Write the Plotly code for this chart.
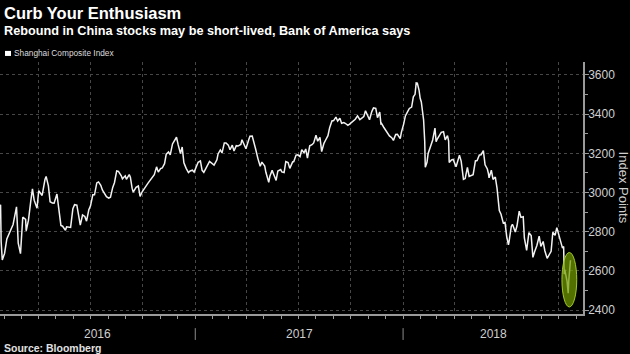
import plotly.graph_objects as go
import pandas as pd

# ---- data: Shanghai Composite Index ----
dates_2016 = ["2016-01-22","2016-01-25","2016-01-26","2016-01-28","2016-02-01","2016-02-03","2016-02-05",
    "2016-02-16","2016-02-22","2016-02-25","2016-02-29","2016-03-04","2016-03-09","2016-03-10","2016-03-14",
    "2016-03-18","2016-03-21","2016-03-24","2016-03-29","2016-04-01","2016-04-07","2016-04-12","2016-04-14",
    "2016-04-18","2016-04-21","2016-04-25","2016-04-28","2016-05-03","2016-05-06","2016-05-10","2016-05-13",
    "2016-05-18","2016-05-20","2016-05-24","2016-05-27","2016-05-31","2016-06-03","2016-06-07","2016-06-13",
    "2016-06-17","2016-06-21","2016-06-24","2016-06-28","2016-07-01","2016-07-05","2016-07-08","2016-07-12",
    "2016-07-15","2016-07-19","2016-07-22","2016-07-27","2016-07-29","2016-08-02","2016-08-05","2016-08-09",
    "2016-08-12","2016-08-16","2016-08-19","2016-08-24","2016-08-26","2016-08-31","2016-09-02","2016-09-07",
    "2016-09-09","2016-09-12","2016-09-14","2016-09-19","2016-09-23","2016-09-26","2016-09-30","2016-10-10",
    "2016-10-14","2016-10-18","2016-10-21","2016-10-25","2016-10-28","2016-11-01","2016-11-04","2016-11-08",
    "2016-11-11","2016-11-15","2016-11-18","2016-11-22","2016-11-25","2016-11-29","2016-12-02","2016-12-06",
    "2016-12-09","2016-12-12","2016-12-16","2016-12-20","2016-12-23","2016-12-27","2016-12-30"]
values_2016 = [2916,2938,2750,2656,2689,2739,2763,
    2837,2927,2742,2688,2874,2863,2805,2859,
    2955,3019,2961,2920,3009,2985,3066,3082,
    3034,2953,2946,2945,2992,2913,2832,2828,
    2807,2825,2821,2822,2917,2938,2936,2834,
    2885,2878,2854,2912,2932,2988,2988,3049,
    3054,3037,3012,2992,2979,2971,2976,3026,
    3050,3110,3108,3085,3070,3085,3067,3091,
    3078,3022,3002,3026,3033,2980,3005,3048,
    3064,3084,3091,3131,3104,3122,3125,3147,
    3196,3207,3192,3248,3262,3282,3243,3199,
    3232,3152,3123,3102,3110,3114,3104]

dates_2017 = ["2017-01-03","2017-01-06","2017-01-10","2017-01-13","2017-01-16","2017-01-20","2017-01-24",
    "2017-01-26","2017-02-03","2017-02-08","2017-02-10","2017-02-14","2017-02-17","2017-02-21","2017-02-24",
    "2017-02-28","2017-03-03","2017-03-07","2017-03-10","2017-03-14","2017-03-17","2017-03-22","2017-03-24",
    "2017-03-29","2017-03-31","2017-04-05","2017-04-07","2017-04-11","2017-04-14","2017-04-17","2017-04-21",
    "2017-04-25","2017-04-28","2017-05-03","2017-05-05","2017-05-10","2017-05-12","2017-05-16","2017-05-19",
    "2017-05-23","2017-05-26","2017-05-31","2017-06-02","2017-06-06","2017-06-09","2017-06-13","2017-06-16",
    "2017-06-21","2017-06-23","2017-06-27","2017-06-30","2017-07-04","2017-07-07","2017-07-11","2017-07-14",
    "2017-07-17","2017-07-21","2017-07-25","2017-07-28","2017-08-01","2017-08-04","2017-08-08","2017-08-11",
    "2017-08-15","2017-08-18","2017-08-22","2017-08-25","2017-08-29","2017-09-01","2017-09-05","2017-09-08",
    "2017-09-12","2017-09-15","2017-09-19","2017-09-22","2017-09-26","2017-09-29","2017-10-09","2017-10-13",
    "2017-10-17","2017-10-20","2017-10-24","2017-10-27","2017-10-31","2017-11-03","2017-11-07","2017-11-10",
    "2017-11-14","2017-11-17","2017-11-21","2017-11-23","2017-11-24","2017-11-28","2017-12-01","2017-12-05",
    "2017-12-08","2017-12-12","2017-12-15","2017-12-19","2017-12-22","2017-12-27","2017-12-29"]
values_2017 = [3135,3154,3161,3113,3103,3123,3142,
    3159,3140,3167,3197,3217,3202,3253,3253,
    3242,3218,3242,3212,3239,3237,3245,3269,
    3241,3223,3270,3287,3288,3246,3222,3173,
    3134,3155,3135,3103,3052,3083,3113,3091,
    3062,3110,3117,3105,3102,3158,3153,3123,
    3156,3158,3191,3192,3183,3218,3203,3222,
    3176,3238,3244,3253,3292,3262,3281,3209,
    3251,3268,3290,3331,3365,3367,3385,3365,
    3379,3353,3357,3352,3343,3349,3374,3391,
    3372,3378,3388,3417,3393,3371,3413,3432,
    3429,3382,3410,3351,3353,3333,3318,3303,
    3289,3280,3266,3296,3297,3275,3307]

dates_2018 = ["2018-01-02","2018-01-05","2018-01-09","2018-01-12","2018-01-16","2018-01-19","2018-01-22",
    "2018-01-24","2018-01-26","2018-01-29","2018-01-31","2018-02-02","2018-02-06","2018-02-08","2018-02-09",
    "2018-02-12","2018-02-14","2018-02-22","2018-02-26","2018-02-28","2018-03-02","2018-03-06","2018-03-09",
    "2018-03-13","2018-03-16","2018-03-20","2018-03-22","2018-03-23","2018-03-27","2018-03-30","2018-04-03",
    "2018-04-04","2018-04-10","2018-04-13","2018-04-17","2018-04-20","2018-04-24","2018-04-27","2018-05-04",
    "2018-05-08","2018-05-11","2018-05-15","2018-05-18","2018-05-22","2018-05-25","2018-05-29","2018-05-31",
    "2018-06-01","2018-06-05","2018-06-08","2018-06-12","2018-06-15","2018-06-19","2018-06-22","2018-06-26",
    "2018-06-29","2018-07-02","2018-07-05","2018-07-06","2018-07-10","2018-07-12","2018-07-13","2018-07-17",
    "2018-07-20","2018-07-24","2018-07-26","2018-07-27","2018-07-31","2018-08-02","2018-08-06","2018-08-08",
    "2018-08-10","2018-08-14","2018-08-17","2018-08-20","2018-08-24","2018-08-28","2018-08-31","2018-09-04",
    "2018-09-07","2018-09-11","2018-09-14","2018-09-18","2018-09-21","2018-09-25","2018-09-28","2018-10-08",
    "2018-10-10","2018-10-11","2018-10-12","2018-10-16","2018-10-18","2018-10-19","2018-10-22"]
values_2018 = [3349,3391,3413,3429,3436,3488,3501,
    3559,3558,3523,3481,3462,3371,3262,3129,
    3154,3199,3268,3329,3259,3273,3290,3307,
    3310,3269,3290,3263,3153,3166,3169,3136,
    3131,3190,3160,3067,3071,3128,3082,3091,
    3161,3163,3192,3193,3214,3141,3120,3095,
    3075,3114,3067,3079,3022,2908,2889,2844,
    2847,2775,2733,2747,2827,2837,2831,2798,
    2829,2905,2882,2873,2876,2768,2705,2745,
    2795,2780,2669,2698,2730,2777,2725,2750,
    2703,2664,2682,2700,2797,2781,2821,2716,
    2725,2583,2606,2546,2486,2550,2654]

dates = dates_2016 + dates_2017 + dates_2018
values = values_2016 + values_2017 + values_2018

year_labels = ["2016", "2017", "2018"]
y_ticks = [2400, 2600, 2800, 3000, 3200, 3400, 3600]
highlight_n = 4   # last points circled in green

x_start, x_end = "2016-01-24", "2018-11-13"
y_min, y_max = 2380, 3666

FONT = "Liberation Sans, Arial, sans-serif"
GRID = "#474747"
AXIS = "#9a9a9a"
TEXT = "#cfcfcf"

fig = go.Figure()
fig.add_trace(go.Scatter(x=pd.to_datetime(dates), y=values, mode="lines",
                         line=dict(color="#f2f2f2", width=1.5), showlegend=False,
                         hoverinfo="x+y"))

fig.update_layout(
    width=630, height=354,
    margin=dict(l=0, r=47, t=62, b=40),
    paper_bgcolor="#000000", plot_bgcolor="#000000",
    font=dict(family=FONT, color=TEXT),
    showlegend=False,
)

fig.update_xaxes(
    range=[x_start, x_end], type="date",
    tick0="2016-01-01", dtick="M3",
    showgrid=True, gridcolor=GRID, griddash="dot", gridwidth=1,
    showticklabels=False, ticks="outside", ticklen=3, tickcolor=AXIS,
    minor=dict(dtick="M1", tick0="2016-01-01", ticks="outside", ticklen=3, tickcolor=AXIS, showgrid=False),
    showline=True, linecolor=AXIS, linewidth=1.5, zeroline=False,
)
fig.update_yaxes(
    range=[y_min, y_max], side="right",
    tickvals=y_ticks, ticktext=[str(v) for v in y_ticks],
    showgrid=True, gridcolor=GRID, griddash="dot", gridwidth=1,
    ticks="outside", ticklen=4, tickcolor=AXIS,
    minor=dict(dtick=100, tick0=2400, ticks="outside", ticklen=3, tickcolor=AXIS, showgrid=False),
    tickfont=dict(size=12, color=TEXT, family=FONT),
    ticklabelstandoff=-3,
    showline=True, linecolor=AXIS, linewidth=1.5, zeroline=False,
)

# year labels centred on the visible part of each year
starts = [pd.Timestamp(x_start), pd.Timestamp("2017-01-01"), pd.Timestamp("2018-01-01")]
ends = [pd.Timestamp("2017-01-01"), pd.Timestamp("2018-01-01"), pd.Timestamp(x_end)]
for lab, s, e in zip(year_labels, starts, ends):
    fig.add_annotation(x=s + (e - s) / 2, y=-0.08, xref="x", yref="paper", text=lab,
                       showarrow=False, font=dict(size=12, color=TEXT, family=FONT),
                       xanchor="center", yanchor="middle")
for s in starts[1:]:
    fig.add_shape(type="line", x0=s, x1=s, xref="x", yref="paper", y0=-0.056, y1=-0.103,
                  line=dict(color="#8a8a8a", width=1))

# green highlight ellipse around the latest rebound
hl_d = pd.to_datetime(dates[-highlight_n:])
hl_v = values[-highlight_n:]
fig.add_shape(type="circle", xref="x", yref="y",
              x0=hl_d[0] - pd.Timedelta(days=9), x1=hl_d[-1] + pd.Timedelta(days=11),
              y0=min(hl_v) - 70, y1=max(hl_v) + 40,
              fillcolor="rgba(112,155,0,0.72)", line=dict(color="rgba(170,210,40,0.95)", width=1),
              layer="above")

# titles
fig.add_annotation(x=0.003, y=1.194, xref="paper", yref="paper", text="<b>Curb Your Enthusiasm</b>",
                   showarrow=False, xanchor="left", yanchor="middle",
                   font=dict(size=16.5, color="#ffffff", family=FONT))
fig.add_annotation(x=0.003, y=1.123, xref="paper", yref="paper",
                   text="<b>Rebound in China stocks may be short-lived, Bank of America says</b>",
                   showarrow=False, xanchor="left", yanchor="middle",
                   font=dict(size=12.7, color="#ffffff", family=FONT))
# legend
fig.add_shape(type="rect", xref="paper", yref="paper", x0=0.0086, x1=0.0189, y0=1.024, y1=1.044,
              fillcolor="#ffffff", line=dict(width=0))
fig.add_annotation(x=0.020, y=1.034, xref="paper", yref="paper", text="Shanghai Composite Index",
                   showarrow=False, xanchor="left", yanchor="middle",
                   font=dict(size=8.3, color="#dddddd", family=FONT))
# axis title
fig.add_annotation(x=1.071, y=0.5, xref="paper", yref="paper", text="Index Points",
                   showarrow=False, textangle=90, xanchor="center", yanchor="middle",
                   font=dict(size=13, color=TEXT, family=FONT))
# source
fig.add_annotation(x=0.004, y=-0.133, xref="paper", yref="paper", text="<b>Source: Bloomberg</b>",
                   showarrow=False, xanchor="left", yanchor="middle",
                   font=dict(size=10.5, color="#e0e0e0", family=FONT))

fig.write_html("out.html")
